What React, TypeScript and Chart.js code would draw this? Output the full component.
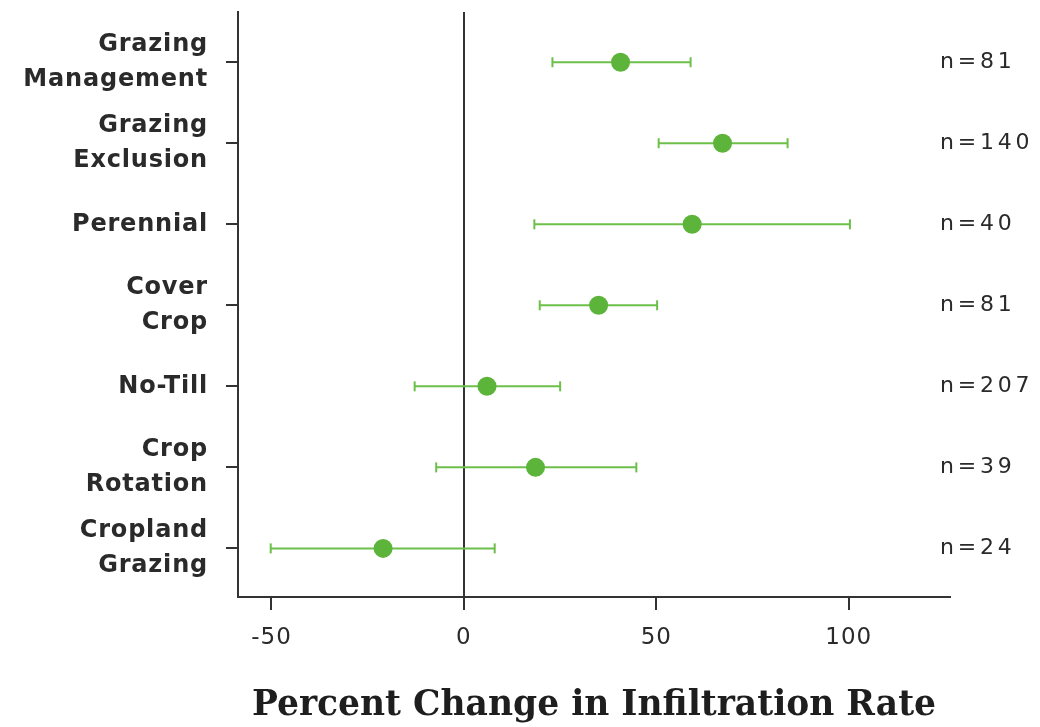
import React, { useEffect, useRef } from 'react';
import { Chart, registerables } from 'chart.js';

Chart.register(...registerables);

// Conservation practices, top to bottom
const practices: string[][] = [
  ['Grazing', 'Management'],
  ['Grazing', 'Exclusion'],
  ['Perennial'],
  ['Cover', 'Crop'],
  ['No-Till'],
  ['Crop', 'Rotation'],
  ['Cropland', 'Grazing'],
];

// Mean percent change in infiltration rate and its confidence interval
const meanChange = [40.7, 67.2, 59.3, 35.0, 6.0, 18.6, -21.0];
const lowerCI = [23.0, 50.6, 18.3, 19.7, -12.8, -7.2, -50.2];
const upperCI = [58.9, 84.1, 100.3, 50.2, 25.0, 44.8, 8.0];

// Number of observations per practice
const sampleSizes = [81, 140, 40, 81, 207, 39, 24];

// Horizontal axis ticks
const xTicks = [-50, 0, 50, 100];

const BAR_COLOR = '#6cc04a';
const DOT_COLOR = '#5cb43a';
const INK = '#2a2a2a';
const AXIS = '#333333';

const labelSpacing = {
  id: 'labelSpacing',
  beforeDraw(chart: any) {
    const spacing: Array<[string, string]> = [
      ['y', '0.8px'],
      ['x', '1px'],
    ];
    for (const [id, sp] of spacing) {
      const scale = chart.scales[id];
      if (scale && !scale.__spaced) {
        const orig = scale.drawLabels.bind(scale);
        scale.drawLabels = (area: any) => {
          const ctx = chart.ctx;
          ctx.save();
          ctx.letterSpacing = sp;
          orig(area);
          ctx.restore();
        };
        scale.__spaced = true;
      }
    }
  },
};

const sampleSizeLabels = {
  id: 'sampleSizeLabels',
  afterDatasetsDraw(chart: any) {
    const ctx = chart.ctx;
    const yScale = chart.scales.y;
    ctx.save();
    ctx.font = '22px "DejaVu Sans"';
    ctx.letterSpacing = '3.8px';
    ctx.fillStyle = INK;
    ctx.textAlign = 'left';
    ctx.textBaseline = 'middle';
    sampleSizes.forEach((n, i) => {
      ctx.fillText(`n=${n}`, chart.chartArea.right - 10, yScale.getPixelForValue(i));
    });
    ctx.restore();
  },
};

export default function App() {
  const canvasRef = useRef<HTMLCanvasElement | null>(null);

  useEffect(() => {
    if (!canvasRef.current) return;

    const intervalSets = practices.map((p, i) => ({
      type: 'scatter',
      label: p.join(' '),
      data: [
        { x: lowerCI[i], y: i },
        { x: upperCI[i], y: i },
      ],
      showLine: true,
      borderColor: BAR_COLOR,
      borderWidth: 2,
      pointStyle: 'line',
      rotation: 90,
      pointRadius: 5,
      pointHoverRadius: 5,
      pointBorderColor: BAR_COLOR,
      pointBorderWidth: 2,
      order: 2,
    }));

    const meanSet = {
      type: 'scatter',
      label: 'Mean',
      data: meanChange.map((m, i) => ({ x: m, y: i })),
      pointStyle: 'circle',
      pointRadius: 9.5,
      pointHoverRadius: 9.5,
      backgroundColor: DOT_COLOR,
      borderColor: DOT_COLOR,
      pointBorderWidth: 0,
      order: 1,
    };

    const chart = new Chart(canvasRef.current, {
      type: 'scatter',
      data: { datasets: [...intervalSets, meanSet] as any },
      options: {
        animation: false,
        responsive: true,
        maintainAspectRatio: false,
        layout: { padding: { top: 12, right: 90, bottom: 0, left: 0 } },
        plugins: {
          legend: { display: false },
          tooltip: { enabled: false },
        },
        scales: {
          x: {
            type: 'linear',
            min: -58.7,
            max: 126.3,
            afterBuildTicks: (s: any) => {
              s.ticks = xTicks.map((v) => ({ value: v }));
            },
            afterFit: (s: any) => {
              s.height = 130;
              s.paddingLeft = 0;
              s.paddingRight = 0;
            },
            grid: {
              drawOnChartArea: true,
              color: (c: any) => (c.tick && c.tick.value === 0 ? AXIS : 'rgba(0,0,0,0)'),
              lineWidth: 2,
              tickLength: 13,
              tickColor: AXIS,
              tickWidth: 2,
            },
            border: { display: true, color: AXIS, width: 2 },
            ticks: {
              color: INK,
              padding: 14,
              font: { family: 'DejaVu Sans', size: 23 },
              callback: (v: any) => String(v),
            },
            title: {
              display: true,
              text: 'Percent Change in Infiltration Rate',
              color: '#1e1e1e',
              font: { family: 'DejaVu Serif', weight: 'bold', size: 34.5 },
              padding: { top: 0, bottom: 0 },
            },
          },
          y: {
            type: 'linear',
            reverse: true,
            min: -0.62,
            max: 6.6,
            afterBuildTicks: (s: any) => {
              s.ticks = practices.map((_, i) => ({ value: i }));
            },
            afterFit: (s: any) => {
              s.width = 238;
              s.paddingTop = 0;
              s.paddingBottom = 0;
            },
            grid: {
              drawOnChartArea: false,
              tickLength: 12,
              color: AXIS,
              lineWidth: 2,
            },
            border: { display: true, color: AXIS, width: 2 },
            ticks: {
              autoSkip: false,
              color: INK,
              padding: 18,
              font: { family: 'DejaVu Sans', weight: 'bold', size: 24, lineHeight: 1.46 },
              callback: (_v: any, index: number) => practices[index],
            },
          },
        },
      },
      plugins: [labelSpacing, sampleSizeLabels],
    });

    return () => chart.destroy();
  }, []);

  return (
    <div style={{ position: 'fixed', left: 0, top: 0, width: 1040, height: 727, background: '#ffffff' }}>
      <canvas ref={canvasRef} />
    </div>
  );
}
